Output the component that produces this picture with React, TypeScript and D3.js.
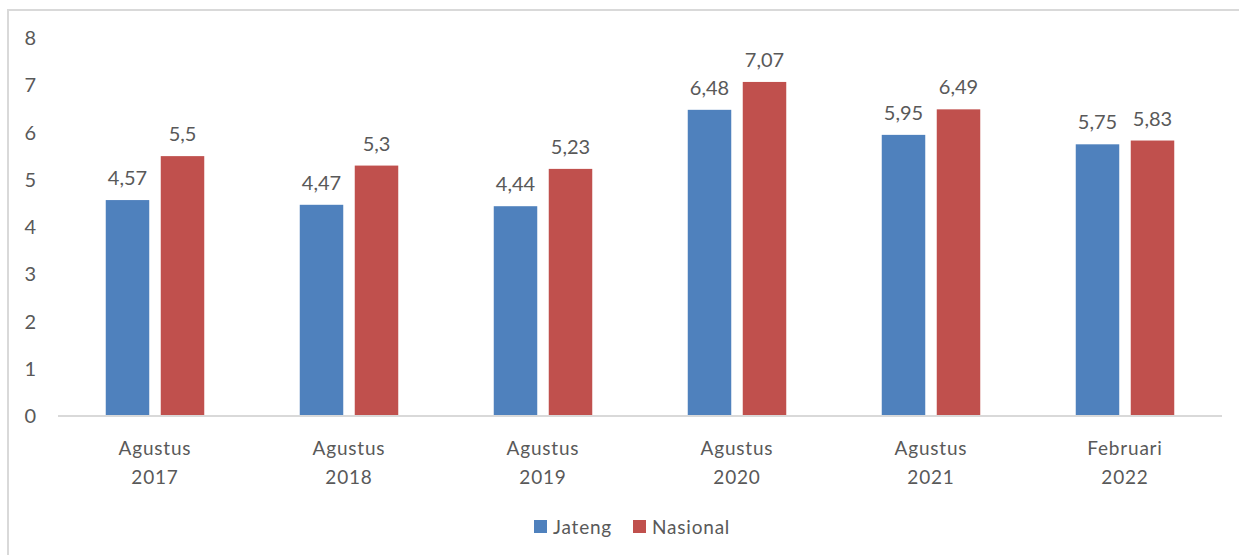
import React from "react";
import * as d3 from "d3";

const categories: string[][] = [
  ["Agustus", "2017"],
  ["Agustus", "2018"],
  ["Agustus", "2019"],
  ["Agustus", "2020"],
  ["Agustus", "2021"],
  ["Februari", "2022"],
];
const seriesNames = ["Jateng", "Nasional"];
const jateng = [4.57, 4.47, 4.44, 6.48, 5.95, 5.75];
const nasional = [5.5, 5.3, 5.23, 7.07, 6.49, 5.83];
const yTicks = [0, 1, 2, 3, 4, 5, 6, 7, 8];
const colors = ["#4F81BD", "#C0504D"];

const W = 1239;
const H = 555;
const FONT = "Lato, 'Open Sans', sans-serif";
const TEXT = "#595959";

export default function App() {
  const x0 = d3
    .scaleBand<number>()
    .domain(categories.map((_, i) => i))
    .range([58, 1222])
    .paddingInner(0)
    .paddingOuter(0);
  const y = d3.scaleLinear().domain([0, 8]).range([416, 38]);
  const barW = 43.5;
  const gap = 11.5;
  const series = [jateng, nasional];
  const fmt = (v: number) => String(v).replace(".", ",");

  return (
    <svg
      width={W}
      height={H}
      style={{ position: "absolute", left: 0, top: 0, background: "#fff" }}
      fontFamily={FONT}
    >
      <rect x={8} y={10} width={W + 10} height={H + 10} fill="#fff" stroke="#d9d9d9" strokeWidth={2} />
      {yTicks.map((t) => (
        <text key={t} x={36} y={y(t)} dy="0.35em" textAnchor="end" fontSize={20} fill={TEXT}>
          {t}
        </text>
      ))}
      {categories.map((c, i) => {
        const cx = (x0(i) as number) + x0.bandwidth() / 2;
        return (
          <g key={i}>
            {series.map((s, si) => {
              const bx = si === 0 ? cx - gap / 2 - barW : cx + gap / 2;
              return (
                <g key={si}>
                  <rect x={bx} y={y(s[i])} width={barW} height={y(0) - y(s[i])} fill={colors[si]} />
                  <text
                    x={bx + barW / 2}
                    y={y(s[i]) - 15}
                    textAnchor="middle"
                    fontSize={20}
                    fill={TEXT}
                  >
                    {fmt(s[i])}
                  </text>
                </g>
              );
            })}
            <text x={cx} y={448} dy="0.35em" textAnchor="middle" fontSize={19} letterSpacing={0.8} fill={TEXT}>
              {c[0]}
            </text>
            <text x={cx} y={477} dy="0.35em" textAnchor="middle" fontSize={19} letterSpacing={0.8} fill={TEXT}>
              {c[1]}
            </text>
          </g>
        );
      })}
      <line x1={58} x2={1222} y1={y(0)} y2={y(0)} stroke="#d9d9d9" strokeWidth={2} />
      {seriesNames.map((n, i) => {
        const lx = i === 0 ? 534 : 633;
        return (
          <g key={n}>
            <rect x={lx} y={520} width={13} height={13} fill={colors[i]} />
            <text x={lx + 19} y={527} dy="0.35em" fontSize={19} letterSpacing={0.8} fill={TEXT}>
              {n}
            </text>
          </g>
        );
      })}
    </svg>
  );
}
